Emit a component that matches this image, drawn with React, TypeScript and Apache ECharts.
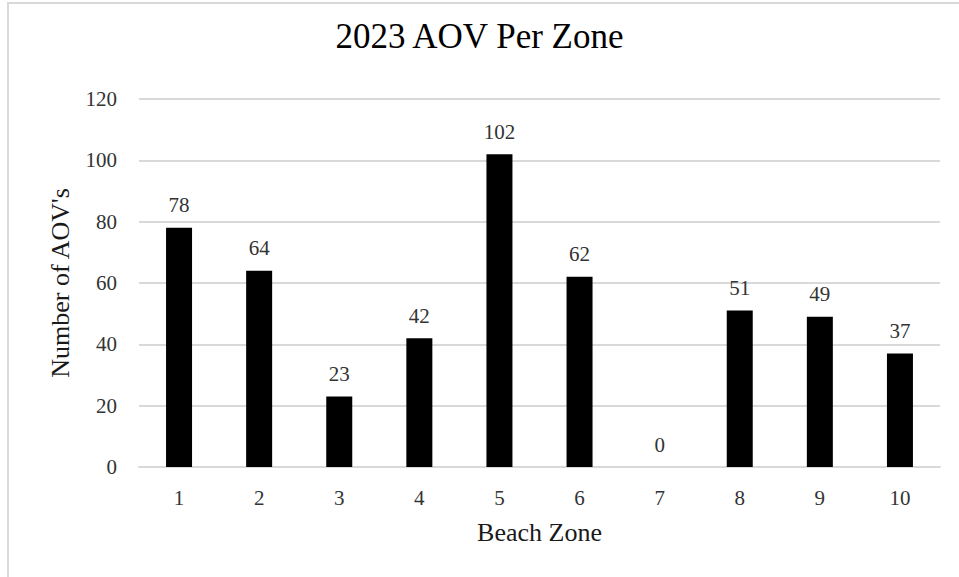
import React, { useEffect, useRef } from "react";
import * as echarts from "echarts";

const categories = ["1", "2", "3", "4", "5", "6", "7", "8", "9", "10"];
const values = [78, 64, 23, 42, 102, 62, 0, 51, 49, 37];
const titleText = "2023 AOV Per Zone";
const xName = "Beach Zone";
const yName = "Number of AOV's";

const FONT = "'Liberation Serif', 'Times New Roman', serif";

export default function App() {
  const ref = useRef<HTMLDivElement>(null);
  useEffect(() => {
    if (!ref.current) return;
    const chart = echarts.init(ref.current, undefined, { renderer: "svg" });
    chart.setOption({
      animation: false,
      backgroundColor: "transparent",
      title: {
        text: titleText,
        left: "center",
        top: 14,
        textStyle: { fontFamily: FONT, fontSize: 35, fontWeight: "normal", color: "#000" },
      },
      grid: { left: 139, right: 19, top: 99, bottom: 110, containLabel: false },
      xAxis: {
        type: "category",
        data: categories,
        name: xName,
        nameLocation: "middle",
        nameGap: 52,
        nameTextStyle: { fontFamily: FONT, fontSize: 26, color: "#1a1a1a" },
        axisLine: { lineStyle: { color: "#d9d9d9", width: 2 } },
        axisTick: { show: false },
        axisLabel: { fontFamily: FONT, fontSize: 21, color: "#333", margin: 20 },
      },
      yAxis: {
        type: "value",
        min: 0,
        max: 120,
        interval: 20,
        name: yName,
        nameLocation: "middle",
        nameGap: 66,
        nameTextStyle: { fontFamily: FONT, fontSize: 26, color: "#1a1a1a" },
        axisLine: { show: false },
        axisTick: { show: false },
        axisLabel: { fontFamily: FONT, fontSize: 21, color: "#333", margin: 22 },
        splitLine: { lineStyle: { color: "#d9d9d9", width: 2 } },
      },
      series: [
        {
          type: "bar",
          data: values,
          barWidth: 26,
          itemStyle: { color: "#000" },
          label: {
            show: true,
            position: "top",
            distance: 12,
            fontFamily: FONT,
            fontSize: 21,
            color: "#333",
          },
        },
      ],
    });
    return () => chart.dispose();
  }, []);
  return (
    <div style={{ position: "fixed", left: 0, top: 0, width: 959, height: 577, background: "#fff", overflow: "hidden" }}>
      <div
        style={{
          position: "absolute",
          left: 7,
          top: 2,
          width: 1200,
          height: 1000,
          border: "2px solid #d9d9d9",
          boxSizing: "border-box",
        }}
      />
      <div ref={ref} style={{ position: "absolute", left: 0, top: 0, width: 959, height: 577 }} />
    </div>
  );
}
